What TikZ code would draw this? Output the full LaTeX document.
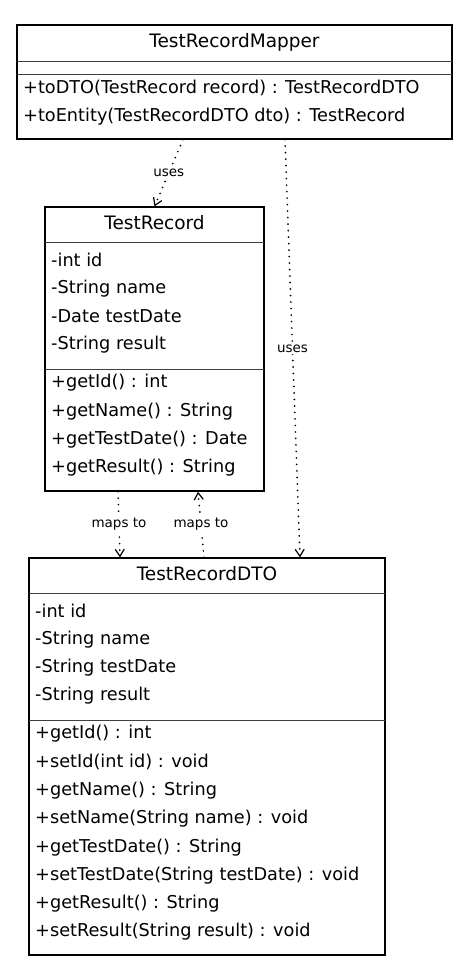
\documentclass[tikz,border=0pt]{standalone}
\usepackage{fontspec}
\setmainfont{DejaVu Sans}
\usepackage{tikz}
\usetikzlibrary{arrows.meta, positioning, calc}

\tikzset{
  classbox/.style={draw=black, line width=1.3pt, fill=white, inner sep=0pt},
  divider/.style={draw=black!75, line width=0.8pt},
  classtitle/.style={font=\fontsize{18.5}{22}\selectfont, inner sep=0pt},
  member/.style={anchor=west, font=\fontsize{17.7}{20}\selectfont, inner sep=0pt},
  dep/.style={line width=1.9pt, line cap=round, dash pattern=on 0pt off 6.5pt,
    -{Straight Barb[length=7pt, width=9pt, line width=1.2pt]}},
  lbl/.style={fill=white, font=\fontsize{13.5}{16}\selectfont, inner sep=2pt}
}

\begin{document}
\begin{tikzpicture}[x=1pt, y=-1pt]
    \useasboundingbox (0,0) rectangle (474,977);

    % class boxes
    \node[classbox, minimum width=435pt, minimum height=114pt] (mapper) at (234.5,82) {};
    \node[classbox, minimum width=219pt, minimum height=284pt] (rec) at (154.5,349) {};
    \node[classbox, minimum width=356pt, minimum height=397pt] (dto) at (207,756.5) {};

    % TestRecordMapper
    \node[classtitle] (mapperT) at (234.5,42) {TestRecordMapper};
    \draw[divider] (17,61) -- (452,61);
    \draw[divider] (17,74) -- (452,74);
    \node[member] (mapperM1) at (23,88) {+toDTO(TestRecord record) : TestRecordDTO};
    \node[member] (mapperM2) at (23,117) {+toEntity(TestRecordDTO dto) : TestRecord};

    % TestRecord
    \node[classtitle] (recT) at (154.5,223) {TestRecord};
    \draw[divider] (45,242) -- (264,242);
    \draw[divider] (45,369) -- (264,369);
    \foreach \t [count=\i] in {-int id, -String name, -Date testDate, -String result}
      \node[member] (recA\i) at (51,{260+28.3*(\i-1)}) {\t};
    \foreach \t [count=\i] in {+getId() : int, +getName() : String,
        +getTestDate() : Date, +getResult() : String}
      \node[member] (recM\i) at (51,{383+28.3*(\i-1)}) {\t};

    % TestRecordDTO
    \node[classtitle] (dtoT) at (207,574) {TestRecordDTO};
    \draw[divider] (29,593) -- (385,593);
    \draw[divider] (29,720) -- (385,720);
    \foreach \t [count=\i] in {-int id, -String name, -String testDate, -String result}
      \node[member] (dtoA\i) at (35,{611+28.3*(\i-1)}) {\t};
    \foreach \t [count=\i] in {+getId() : int, +setId(int id) : void,
        +getName() : String, +setName(String name) : void,
        +getTestDate() : String, +setTestDate(String testDate) : void,
        +getResult() : String, +setResult(String result) : void}
      \node[member] (dtoM\i) at (35,{734+28.3*(\i-1)}) {\t};

    % dependencies
    \draw[dep] ([xshift=-51.5pt]mapper.south) -- node[lbl] {uses} (rec.north);
    \draw[dep] ([xshift=50.5pt]mapper.south) -- node[lbl] {uses} ([xshift=93pt]dto.north);
    \draw[dep] ([xshift=-36.5pt]rec.south) -- node[lbl] {maps to} ([xshift=-87pt]dto.north);
    \draw[dep] ([xshift=-3pt]dto.north) -- node[lbl] {maps to} ([xshift=43.5pt]rec.south);
\end{tikzpicture}
\end{document}
